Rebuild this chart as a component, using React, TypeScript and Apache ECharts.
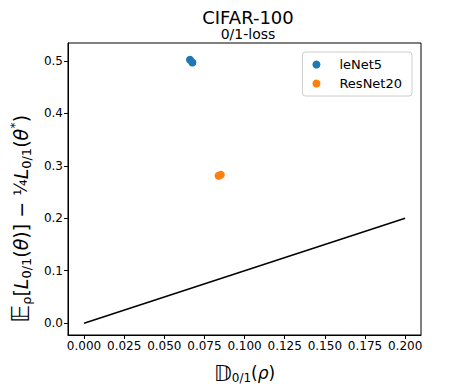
import React, { useEffect, useRef } from "react";
import * as echarts from "echarts";

const lenet5: [number, number][] = [
  [0.066, 0.502],
  [0.0675, 0.497],
];
const resnet20: [number, number][] = [
  [0.0838, 0.281],
  [0.0852, 0.283],
];
const refLine: [number, number][] = [
  [0, 0],
  [0.2, 0.2],
];
const xTicks = [0, 0.025, 0.05, 0.075, 0.1, 0.125, 0.15, 0.175, 0.2];
const yTicks = [0, 0.1, 0.2, 0.3, 0.4, 0.5];

const FONT = "DejaVu Sans";

export default function App() {
  const ref = useRef<HTMLDivElement>(null);
  useEffect(() => {
    if (!ref.current) return;
    const chart = echarts.init(ref.current, null, { renderer: "svg" });
    const mk = (fs: number) => {
      const base = { fontFamily: FONT, fontSize: fs, color: "#000" };
      return {
        n: { ...base },
        bb: { ...base, fontSize: Math.round(fs * 1.3) },
        it: { ...base, fontStyle: "italic" },
        sub: { ...base, fontSize: Math.round(fs * 0.7), verticalAlign: "bottom", padding: [Math.round(fs * 0.45), 0, 0, 0] },
        sup: { ...base, fontSize: Math.round(fs * 0.7), verticalAlign: "top", padding: [0, 0, Math.round(fs * 0.4), 0] },
        frac: { ...base, fontSize: Math.round(fs * 0.9) },
      };
    };
    chart.setOption({
      animation: false,
      backgroundColor: "#fff",
      title: {
        text: "CIFAR-100",
        subtext: "0/1-loss",
        left: 243,
        textAlign: "center",
        top: 3,
        itemGap: 1,
        textStyle: { fontFamily: FONT, fontSize: 18, fontWeight: "normal", color: "#000" },
        subtextStyle: { fontFamily: FONT, fontSize: 14, color: "#000" },
      },
      legend: {
        right: 55,
        top: 52,
        orient: "vertical",
        backgroundColor: "#fff",
        borderColor: "#ccc",
        borderWidth: 1,
        borderRadius: 3,
        padding: [6, 10, 6, 10],
        itemGap: 6,
        itemWidth: 8,
        itemHeight: 8,
        icon: "circle",
        textStyle: { fontFamily: FONT, fontSize: 13, color: "#000", padding: [0, 0, 0, 14] },
        data: ["leNet5", "ResNet20"],
      },
      grid: {
        left: 65,
        right: 46,
        top: 43,
        bottom: 49,
        show: true,
        borderColor: "#000",
        borderWidth: 1,
      },
      xAxis: {
        type: "value",
        min: -0.01,
        max: 0.2099,
        name: "{bb|𝔻}{sub|0/1}{n|(}{it|ρ}{n|)}",
        nameLocation: "middle",
        nameGap: 27,
        nameTextStyle: { rich: mk(17) },
        splitLine: { show: false },
        axisLine: { show: true, onZero: false, lineStyle: { color: "#000" } },
        axisTick: { show: true, length: 4, inside: false, customValues: xTicks, lineStyle: { color: "#000" } },
        axisLabel: {
          customValues: xTicks,
          formatter: (v: number) => v.toFixed(3),
          fontFamily: FONT,
          fontSize: 12,
          color: "#000",
          margin: 5,
        },
      },
      yAxis: {
        type: "value",
        min: -0.0225,
        max: 0.534,
        name: "{bb|𝔼}{sub|ρ}{n|[}{it|L}{sub|0/1}{n|(}{it|θ}{n|)] − }{frac|¼}{it|L}{sub|0/1}{n|(}{it|θ}{sup|*}{n|)}",
        nameLocation: "middle",
        nameGap: 32,
        nameRotate: 90,
        nameTextStyle: { rich: mk(19), padding: [0, 60, 0, 0] },
        splitLine: { show: false },
        axisLine: { show: true, onZero: false, lineStyle: { color: "#000" } },
        axisTick: { show: true, length: 4, inside: false, customValues: yTicks, lineStyle: { color: "#000" } },
        axisLabel: {
          customValues: yTicks,
          formatter: (v: number) => v.toFixed(1),
          fontFamily: FONT,
          fontSize: 12,
          color: "#000",
          margin: 5,
        },
      },
      series: [
        {
          name: "line",
          type: "line",
          data: refLine,
          symbol: "none",
          lineStyle: { color: "#000", width: 1.5 },
          silent: true,
        },
        {
          name: "leNet5",
          type: "scatter",
          data: lenet5,
          symbolSize: 8,
          itemStyle: { color: "#1f77b4", opacity: 1 },
        },
        {
          name: "ResNet20",
          type: "scatter",
          data: resnet20,
          symbolSize: 8,
          itemStyle: { color: "#ff7f0e", opacity: 1 },
        },
      ],
    });
    return () => chart.dispose();
  }, []);
  return (
    <div
      ref={ref}
      style={{ position: "fixed", left: 0, top: 0, width: 467, height: 389 }}
    />
  );
}
